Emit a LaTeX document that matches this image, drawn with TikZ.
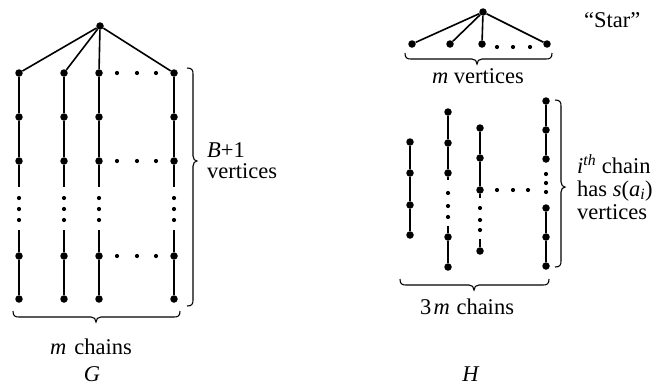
\documentclass[tikz,border=0pt]{standalone}
\usepackage{fontspec}
\setmainfont{Liberation Serif}
\newcommand\myvbrace[4]{%
  \draw[br] (#1,#2) .. controls (#1+5,#2) and (#1+6,#2+2) .. (#1+6,#2+6)
    -- (#1+6,#3-5) .. controls (#1+6,#3-2) and (#1+8,#3) .. (#1+10,#3)
    .. controls (#1+8,#3) and (#1+6,#3+2) .. (#1+6,#3+5)
    -- (#1+6,#4-6) .. controls (#1+6,#4-2) and (#1+5,#4) .. (#1,#4);}
\newcommand\myhbrace[4]{%
  \draw[br] (#1,#4) .. controls (#1,#4+5) and (#1+2,#4+6) .. (#1+6,#4+6)
    -- (#2-5,#4+6) .. controls (#2-2,#4+6) and (#2,#4+8) .. (#2,#4+11)
    .. controls (#2,#4+8) and (#2+2,#4+6) .. (#2+5,#4+6)
    -- (#3-6,#4+6) .. controls (#3-2,#4+6) and (#3,#4+5) .. (#3,#4);}
\begin{document}
\begin{tikzpicture}[x=1pt,y=-1pt,
  V/.style={circle,fill,inner sep=0pt,minimum size=7.5pt},
  sd/.style={circle,fill,inner sep=0pt,minimum size=4.2pt},
  edge/.style={line width=1.6pt},
  br/.style={line width=1.1pt},
  lbl/.style={font=\fontsize{22.5}{23}\selectfont, inner sep=0pt}]
\useasboundingbox[fill=white] (0,0) rectangle (668,389);

% ---------- G ----------
\node[V] (gt) at (100,26) {};
\foreach \c/\x in {1/19,2/64,3/99,4/174} {
  \foreach \r/\y in {1/73,2/117,3/161,4/256,5/299}
    \node[V] (g\c\r) at (\x,\y) {};
  \foreach \k/\y in {1/198,2/209,3/220}
    \node[sd] (gd\c\k) at (\x,\y) {};
  \coordinate (gsa\c) at (\x,187);
  \coordinate (gsb\c) at (\x,230);
  \draw[edge] (g\c1) -- (g\c2) -- (g\c3) -- (gsa\c);
  \draw[edge] (gsb\c) -- (g\c4) -- (g\c5);
  \draw[edge] (gt) -- (g\c1);
}
\foreach \r/\y in {1/73,3/161,4/256}
  \foreach \k/\x in {1/117,2/137,3/156}
    \node[sd] (gh\r\k) at (\x,\y) {};
\myvbrace{187}{68}{161}{306}
\myhbrace{13}{96}{180}{311}
\node[lbl,anchor=west] (bl) at (207,150) {\textit{B}+1};
\node[lbl,anchor=west] (bv) at (207,171) {vertices};
\node[lbl] (mc) at (91,347) {\textit{m}\hspace{0.35em}chains};
\node[lbl] (gl) at (92,374) {\textit{G}};

% ---------- H : star ----------
\node[V] (st) at (483,12) {};
\foreach \k/\x in {1/412,2/450,3/482,4/547} {
  \node[V] (sl\k) at (\x,44) {};
  \draw[edge] (st) -- (sl\k);
}
\foreach \k/\x in {1/497,2/513,3/530}
  \node[sd] (sd\k) at (\x,47) {};
\myhbrace{405}{477}{552}{53}
\node[lbl,anchor=west] (stl) at (584,20) {“Star”};
\node[lbl] (mv) at (478,76) {\textit{m} vertices};

% ---------- H : chains ----------
% chain 1
\foreach \r/\y in {1/142,2/173,3/205,4/235}
  \node[V] (a\r) at (410,\y) {};
\draw[edge] (a1) -- (a2) -- (a3) -- (a4);
% chain 2
\foreach \r/\y in {1/112,2/143,3/173,4/237,5/267}
  \node[V] (b\r) at (448,\y) {};
\foreach \k/\y in {1/193,2/206,3/217}
  \node[sd] (bd\k) at (448,\y) {};
\coordinate (bsa) at (448,180);
\coordinate (bsb) at (448,226);
\draw[edge] (b1) -- (b2) -- (b3) -- (bsa);
\draw[edge] (bsb) -- (b4) -- (b5);
% chain 3
\foreach \r/\y in {1/128,2/158,3/190,4/251}
  \node[V] (c\r) at (480,\y) {};
\foreach \k/\y in {1/208,2/220,3/230}
  \node[sd] (cd\k) at (480,\y) {};
\coordinate (csa) at (480,198);
\coordinate (csb) at (480,239);
\draw[edge] (c1) -- (c2) -- (c3) -- (csa);
\draw[edge] (csb) -- (c4);
% chain 4
\foreach \r/\y in {1/101,2/130,3/159,4/208,5/237,6/266}
  \node[V] (d\r) at (546,\y) {};
\foreach \k/\y in {1/174,2/183,3/192}
  \node[sd] (dd\k) at (546,\y) {};
\draw[edge] (d1) -- (d2) -- (d3);
\draw[edge] (d4) -- (d5) -- (d6);
\foreach \k/\x in {1/497,2/513,3/528}
  \node[sd] (hd\k) at (\x,190) {};
\myvbrace{555}{100}{187}{267}
\myhbrace{400}{474}{549}{279}
\node[lbl,anchor=west,align=left] (ic) at (577,187)
  {\textit{i}\textsuperscript{\textit{th}} chain\\
   has \textit{s}(\textit{a}\textsubscript{\textit{i}})\\
   vertices};
\node[lbl] (tc) at (467,307) {3\hspace{0.1em}\textit{m}\hspace{0.3em}chains};
\node[lbl] (hl) at (471,374) {\textit{H}};
\end{tikzpicture}
\end{document}
